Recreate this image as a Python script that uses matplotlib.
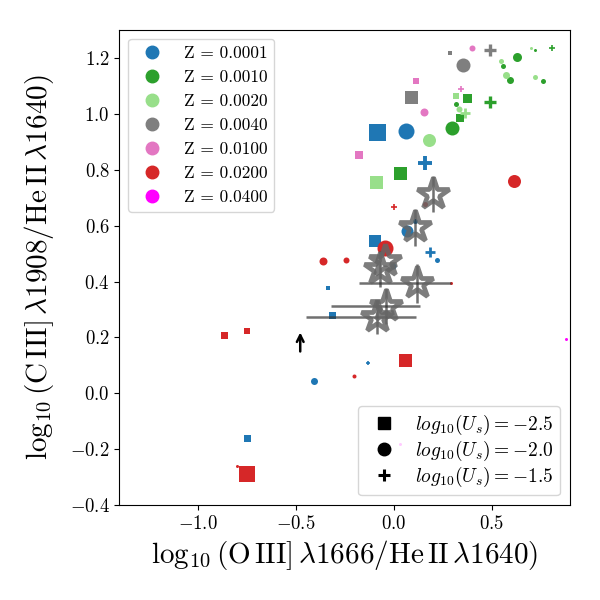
import matplotlib
matplotlib.use("Agg")
import matplotlib.pyplot as plt
from matplotlib.lines import Line2D

plt.rcParams['font.family'] = 'serif'
plt.rcParams['font.serif'] = ['cmr10', 'DejaVu Serif']
plt.rcParams['mathtext.fontset'] = 'cm'
plt.rcParams['axes.formatter.use_mathtext'] = True
plt.rcParams['axes.unicode_minus'] = True

# metallicity classes and colours
z_labels = ['0.0001', '0.0010', '0.0020', '0.0040', '0.0100', '0.0200', '0.0400']
z_colors = ['#1f77b4', '#2ca02c', '#98df8a', '#7f7f7f', '#e377c2', '#d62728', '#ff00ff']

# log10(Us) = -2.5  (squares)
sq_x = [-0.083, -0.095, -0.337, -0.313, -0.748, 0.032, 0.374, 0.338, -0.090, 0.316,
        0.088, 0.288, 0.115, -0.176, 0.056, -0.866, -0.748, -0.748]
sq_y = [0.936, 0.546, 0.377, 0.280, -0.158, 0.788, 1.055, 0.985, 0.756, 1.063,
        1.062, 1.217, 1.117, 0.852, 0.118, 0.210, 0.222, -0.290]
sq_z = [0, 0, 0, 0, 0, 1, 1, 1, 2, 2, 3, 3, 4, 4, 5, 5, 5, 5]
sq_d = [17, 12, 5, 7, 7, 13, 9, 8, 13, 6, 13, 5, 6, 8, 13, 7, 6, 16]

# log10(Us) = -2.0  (circles)
ci_x = [0.063, 0.068, 0.108, -0.004, 0.222, -0.408, 0.298, 0.629, 0.557, 0.594, 0.723,
        0.763, 0.318, 0.179, 0.547, 0.572, 0.700, 0.723, 0.335, 0.352, 0.398, 0.157,
        0.614, -0.046, 0.161, -0.362, -0.242, -0.205, -0.799, 0.293, 0.878, 0.030]
ci_y = [0.938, 0.580, 0.618, 0.454, 0.477, 0.043, 0.949, 1.202, 1.173, 1.120, 1.229,
        1.118, 1.035, 0.906, 1.189, 1.139, 1.236, 1.131, 1.017, 1.176, 1.237, 1.005,
        0.760, 0.520, 0.677, 0.475, 0.476, 0.063, -0.261, 0.395, 0.196, -0.180]
ci_z = [0, 0, 0, 0, 0, 0, 1, 1, 1, 1, 1, 1, 1, 2, 2, 2, 2, 2, 2, 3, 4, 4,
        5, 5, 5, 5, 5, 5, 5, 5, 6, 6]
ci_d = [16, 12, 5, 6, 5, 7, 14, 9, 5, 7, 3, 5, 5, 13, 5, 7, 3, 5, 6, 14, 6, 8,
        13, 16, 5, 8, 6, 4, 3, 3, 3, 3]

# log10(Us) = -1.5  (plus)
pl_x = [0.161, 0.183, -0.132, 0.491, 0.809, 0.491, 0.345, 0.365, 0.002]
pl_y = [0.824, 0.505, 0.107, 1.042, 1.237, 1.227, 1.089, 1.002, 0.667]
pl_z = [0, 0, 0, 1, 1, 3, 4, 2, 5]
pl_d = [14, 10, 5, 12, 6, 12, 6, 10, 6]

# observations (stars)
obs_x = [0.203, 0.107, -0.046, -0.070, 0.118, -0.037, -0.083]
obs_y = [0.713, 0.594, 0.475, 0.445, 0.394, 0.312, 0.273]
obs_xlo = [0.0, 0.0, 0.0, 0.0, 0.294, 0.284, 0.364]
obs_xhi = [0.0, 0.0, 0.0, 0.0, 0.176, 0.173, 0.198]
obs_yerr = [0.065, 0.065, 0.0, 0.065, 0.07, 0.065, 0.06]

# limit arrow
lim_x = [-0.477]
lim_y0 = [0.150]
lim_y1 = [0.218]

fig = plt.figure(figsize=(6, 6), dpi=100)
ax = fig.add_axes([0.199, 0.158, 0.751, 0.792])

px2pt = 0.72


def draw(xs, ys, zs, ds, marker):
    for x, y, z, d in zip(xs, ys, zs, ds):
        s = (d * px2pt) ** 2
        if marker == '+':
            ax.scatter(x, y, s=s, marker='+', color=z_colors[z],
                       linewidths=max(1.2, d * 0.2), zorder=2)
        else:
            ax.scatter(x, y, s=s, marker=marker, color=z_colors[z],
                       linewidths=0, zorder=2)


draw(sq_x, sq_y, sq_z, sq_d, 's')
draw(ci_x, ci_y, ci_z, ci_d, 'o')
draw(pl_x, pl_y, pl_z, pl_d, '+')

for x, y, xl, xh, ye in zip(obs_x, obs_y, obs_xlo, obs_xhi, obs_yerr):
    ax.errorbar(x, y, xerr=[[xl], [xh]], yerr=[[ye], [ye]], fmt='none',
                ecolor='#333333', alpha=0.7, elinewidth=1.8, capsize=0, zorder=3)
    ax.plot(x, y, marker='*', ms=24, mfc='none', mec='#666666', mew=3.4,
            alpha=0.85, zorder=4, linestyle='none')

for x, y0, y1 in zip(lim_x, lim_y0, lim_y1):
    ax.annotate('', xy=(x, y1), xytext=(x, y0),
                arrowprops=dict(arrowstyle='->', color='black', lw=1.8,
                                mutation_scale=12, shrinkA=0, shrinkB=0))

ax.set_xlim(-1.4, 0.9)
ax.set_ylim(-0.4, 1.3)
ax.set_xticks([-1.0, -0.5, 0.0, 0.5])
ax.set_yticks([-0.4, -0.2, 0.0, 0.2, 0.4, 0.6, 0.8, 1.0, 1.2])
ax.tick_params(labelsize=13.5)

ax.set_xlabel(r'$\log_{10}(\mathrm{O\,III]}\,\lambda1666/\mathrm{He\,II}\,\lambda1640)$', fontsize=21)
ax.set_ylabel(r'$\log_{10}(\mathrm{C\,III]}\,\lambda1908/\mathrm{He\,II}\,\lambda1640)$', fontsize=21,
              labelpad=10)

h1 = [Line2D([], [], marker='o', color=c, linestyle='none', markersize=9) for c in z_colors]
l1 = ['Z = ' + z for z in z_labels]
leg1 = ax.legend(h1, l1, loc='upper left', fontsize=12.5)
ax.add_artist(leg1)

u_labels = [r'$log_{10}(U_s) = -2.5$', r'$log_{10}(U_s) = -2.0$', r'$log_{10}(U_s) = -1.5$']
h2 = [Line2D([], [], marker='s', color='black', linestyle='none', markersize=8),
      Line2D([], [], marker='o', color='black', linestyle='none', markersize=9),
      Line2D([], [], marker='+', color='black', linestyle='none', markersize=8, mew=2.2)]
ax.legend(h2, u_labels, loc='lower right', fontsize=14, labelspacing=0.08,
          handletextpad=0.6, borderpad=0.35)

fig.savefig('out.png', dpi=100)
